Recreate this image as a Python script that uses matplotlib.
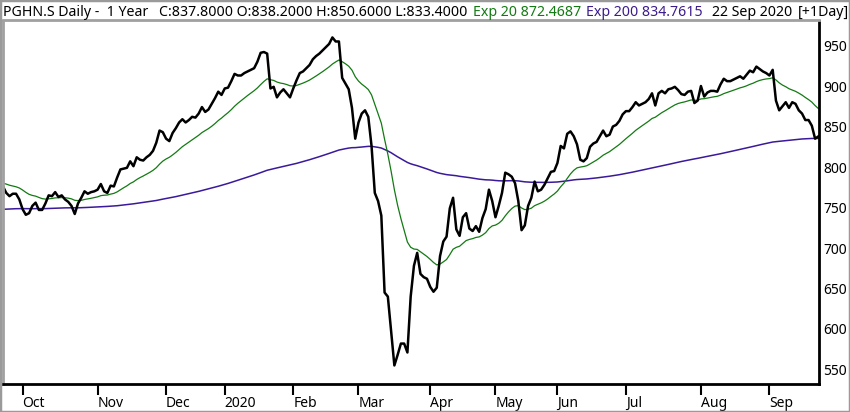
import numpy as np
import pandas as pd
import matplotlib
matplotlib.use("Agg")
import matplotlib.pyplot as plt
from matplotlib.patches import Rectangle

# daily closes, 23 Sep 2019 .. 22 Sep 2020
closes = [
    776, 768, 764, 767, 767, 760, 748, 741, 743, 752,
    756, 747, 747, 755, 765, 764, 769, 763, 765, 760,
    757, 752, 742, 755, 762, 770, 767, 769, 770, 772,
    779, 770, 768, 777, 776, 787, 797, 798, 799, 807,
    801, 812, 809, 808, 812, 815, 820, 830, 845, 843,
    835, 832, 842, 848, 855, 859, 855, 858, 862, 861,
    866, 874, 868, 871, 878, 885,
    893, 889, 897, 898, 906, 915, 913, 913, 916, 918,
    920, 922, 930, 941, 942, 940, 897, 899, 886, 892,
    896, 891, 886, 897, 907, 916, 918, 922, 926, 933,
    937, 940, 944, 948, 952, 960, 955, 955, 910, 903,
    896, 873, 835, 855, 866, 870, 862, 826, 768, 758,
    740, 645, 640, 597, 555, 568, 582, 582, 571, 640,
    678, 694,
    668, 664, 662, 652, 646, 651, 690, 708, 714, 749,
    762, 723, 715, 738, 743, 724, 721, 727, 720, 737,
    748, 772, 758, 738, 752, 768, 793, 791, 788, 780,
    758, 722, 728, 752, 762, 782, 770, 772, 778, 786,
    794, 795, 805, 826, 823, 841, 844, 838, 828, 809,
    807, 811, 825, 829, 831, 838, 845, 838, 840, 850,
    852, 857, 865,
    869, 869, 874, 880, 876, 878, 880, 884, 891, 876,
    891, 894, 891, 896, 897, 899, 895, 890, 889, 893,
    894, 879, 882, 900, 887, 892, 894, 894, 893, 902,
    909, 906, 906, 908, 910, 912, 909, 914, 919, 917,
    924, 921, 918, 916, 913, 920, 882, 870, 875, 880,
    873, 880, 878, 870, 866, 858, 858, 851, 835, 837.8,
]

# moving average levels just before the first bar
ema20_start = 780.5
ema200_start = 747.5

# SIX exchange closed days in the window
holidays = ["2019-12-24", "2019-12-25", "2019-12-26", "2019-12-31",
            "2020-01-01", "2020-01-02", "2020-04-10", "2020-04-13",
            "2020-05-01", "2020-05-21", "2020-06-01"]

month_labels = ["Oct", "Nov", "Dec", "2020", "Feb", "Mar", "Apr",
                "May", "Jun", "Jul", "Aug", "Sep"]
y_ticks = [550, 600, 650, 700, 750, 800, 850, 900, 950]

header = [
    ("PGHN.S Daily -  1 Year", 3, "black"),
    ("C:837.8000 O:838.2000 H:850.6000 L:833.4000", 159, "black"),
    ("Exp 20 872.4687", 473, "#137a13"),
    ("Exp 200 834.7615", 586, "#3b1c8c"),
    ("22 Sep 2020", 712, "black"),
    ("[+1Day]", 798, "black"),
]

dates = pd.bdate_range("2019-09-23", "2020-09-22")
dates = dates[~dates.isin(pd.to_datetime(holidays))]
df = pd.DataFrame({"close": closes}, index=dates)
df["exp20"] = pd.Series([ema20_start] + closes).ewm(span=20, adjust=False).mean().values[1:]
df["exp200"] = pd.Series([ema200_start] + closes).ewm(span=200, adjust=False).mean().values[1:]

x = np.arange(len(df))
month_pos = [i for i in range(1, len(dates)) if dates[i].month != dates[i - 1].month]

plt.rcParams["font.family"] = ["Noto Sans", "DejaVu Sans"]

W, H = 850, 412
fig = plt.figure(figsize=(W / 100, H / 100), dpi=100)
ax = fig.add_axes([3 / W, 28.5 / H, 816 / W, 363 / H])

ax.plot(x, df["exp200"], color="#3a1a9a", lw=1.1)
ax.plot(x, df["exp20"], color="#137a13", lw=0.9)
ax.plot(x, df["close"], color="black", lw=1.8)

ax.set_xlim(0, len(df) - 0.8)
ax.set_ylim(532.7, 980.9)

ax.yaxis.tick_right()
ax.set_yticks(y_ticks)
ax.tick_params(axis="y", length=0, pad=3, labelsize=10)

ax.set_xticks(month_pos)
ax.set_xticklabels(month_labels)
ax.tick_params(axis="x", length=8, width=1.5, direction="out", pad=1, labelsize=10)
for lbl in ax.get_xticklabels():
    lbl.set_horizontalalignment("left")

for side in ["right", "bottom"]:
    ax.spines[side].set_color("black")
    ax.spines[side].set_linewidth(2)
for side in ["left", "top"]:
    ax.spines[side].set_color("#a0a0a0")
    ax.spines[side].set_linewidth(2)

for text, px, col in header:
    fig.text(px / W, 1 - 12.5 / H, text, color=col, fontsize=10.2, va="center", ha="left")

fig.patches.append(Rectangle((0, 0), 1, 1, transform=fig.transFigure, fill=False,
                             edgecolor="#9a9a9a", lw=2.5))

fig.savefig("out.png", dpi=100)
